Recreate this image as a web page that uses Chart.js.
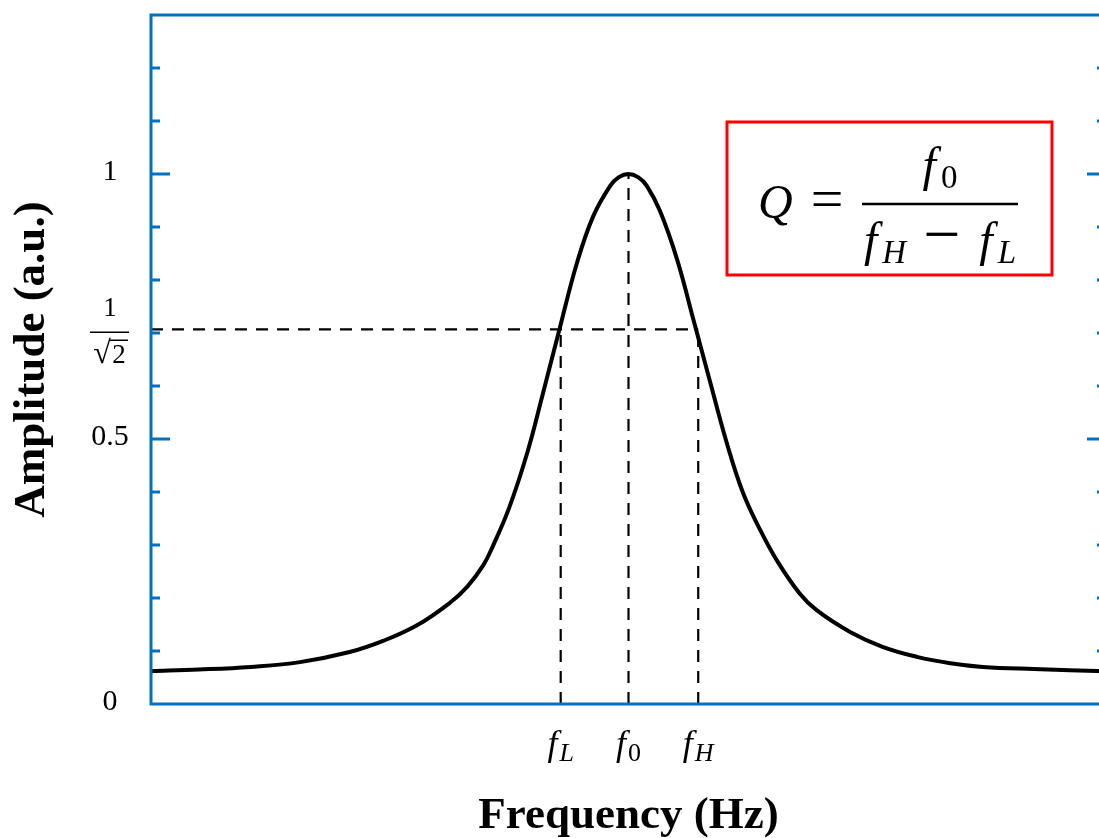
<!DOCTYPE html>
<html lang="en">
<head>
<meta charset="UTF-8">
<title>Resonance curve and Q factor</title>
<script src="https://cdn.jsdelivr.net/npm/chart.js@4.4.1/dist/chart.umd.min.js"></script>
<style>
  html, body { margin: 0; padding: 0; background: #fff; overflow: hidden; }
  #wrap { width: 1120px; height: 838px; }
</style>
</head>
<body>
<div id="wrap"><canvas id="resChart" width="1120" height="838"></canvas></div>
<script>
  // frequency in arbitrary units (axis runs 0..100), amplitude normalised to the peak
  const freq = [0, 5, 10.4, 15.6, 20.8, 24.3, 27.9, 31.3, 33.1, 34.8, 35.8, 37.5, 39.4, 41.0, 42.8, 44.6, 46.3, 48.1, 49,
                50, 51, 51.9, 53.3, 55.1, 56.8, 58.5, 60.3, 62.0, 63.8, 65.5, 67.9, 69.7, 73.2, 76.6, 80.2, 83.7, 87.1, 92.4, 100];
  const amplitude = [0.062, 0.065, 0.070, 0.079, 0.098, 0.119, 0.149, 0.191, 0.221, 0.262, 0.298, 0.370, 0.474, 0.583, 0.709, 0.832, 0.920, 0.978, 0.994,
                     1.0, 0.994, 0.978, 0.930, 0.838, 0.725, 0.611, 0.492, 0.398, 0.328, 0.272, 0.209, 0.177, 0.136, 0.108, 0.089, 0.077, 0.070, 0.066, 0.062];

  // fL, f0, fH and the level each dashed drop line reaches
  const markerFreqs = [42.9, 50, 57.3];
  const markerSubs = ['L', '0', 'H'];
  const markerLevels = [0.707, 1, 0.707];
  const halfPower = 0.707;

  const yTickValues = [0, 0.5, 1];
  const yTickLabels = ['0', '0.5', '1'];
  const majorTicks = [0.5, 1];
  const minorTicks = [0.1, 0.2, 0.3, 0.4, 0.6, 0.7, 0.8, 0.9, 1.1, 1.2];

  const BLUE = '#0070C0';
  const SERIF = '"Liberation Serif", "Times New Roman", serif';

  // draws a row of text pieces (f with subscripts etc.)
  function run(ctx, pieces, x, y, align) {
    let total = 0;
    pieces.forEach(p => { ctx.font = p.f; total += (p.dx || 0) + ctx.measureText(p.t).width; });
    let cx = align === 'center' ? x - total / 2 : x;
    ctx.textAlign = 'left';
    ctx.textBaseline = 'alphabetic';
    pieces.forEach(p => {
      ctx.font = p.f;
      cx += (p.dx || 0);
      ctx.fillText(p.t, cx, y + (p.dy || 0));
      cx += ctx.measureText(p.t).width;
    });
  }

  const dashed = (pts) => ({
    data: pts,
    borderColor: '#000',
    borderWidth: 2.2,
    borderDash: [12, 9],
    pointRadius: 0,
    tension: 0
  });

  const datasets = [
    dashed([{ x: 0, y: halfPower }, { x: markerFreqs[2], y: halfPower }])
  ];
  markerFreqs.forEach((f, i) => datasets.push(dashed([{ x: f, y: 0 }, { x: f, y: markerLevels[i] }])));
  datasets.push({
    data: freq.map((f, i) => ({ x: f, y: amplitude[i] })),
    borderColor: '#000',
    borderWidth: 4,
    pointRadius: 0,
    tension: 0.4
  });

  const decor = {
    id: 'decor',
    afterDraw(chart) {
      const { ctx, chartArea: a, scales: { x, y } } = chart;
      ctx.save();

      // blue frame with inward ticks on both sides
      ctx.strokeStyle = BLUE;
      ctx.lineWidth = 3;
      ctx.strokeRect(a.left, a.top, a.right - a.left, a.bottom - a.top);
      const tick = (v, len) => {
        const py = Math.round(y.getPixelForValue(v));
        ctx.beginPath();
        ctx.moveTo(a.left, py); ctx.lineTo(a.left + len, py);
        ctx.moveTo(a.right, py); ctx.lineTo(a.right - len, py);
        ctx.stroke();
      };
      majorTicks.forEach(v => tick(v, 19));
      minorTicks.forEach(v => tick(v, 9));

      // y tick labels
      ctx.fillStyle = '#000';
      ctx.font = `30px ${SERIF}`;
      ctx.textAlign = 'center';
      ctx.textBaseline = 'middle';
      const labX = a.left - 41;
      yTickValues.forEach((v, i) => ctx.fillText(yTickLabels[i], labX, y.getPixelForValue(v) - 2));

      // 1/sqrt(2) label
      const hp = y.getPixelForValue(halfPower);
      ctx.font = `27px ${SERIF}`;
      ctx.fillText('1', labX, hp - 20);
      ctx.font = `32px ${SERIF}`;
      ctx.fillText('\u221A', labX - 8, hp + 25);
      ctx.font = `27px ${SERIF}`;
      ctx.fillText('2', labX + 9, hp + 27);
      ctx.strokeStyle = '#000';
      ctx.lineWidth = 1.5;
      ctx.beginPath();
      ctx.moveTo(labX - 20, hp + 3); ctx.lineTo(labX + 19, hp + 3);
      ctx.moveTo(labX - 1, hp + 11); ctx.lineTo(labX + 18, hp + 11);
      ctx.stroke();

      // f_L, f_0, f_H under the axis
      markerFreqs.forEach((f, i) => {
        const sub = markerSubs[i];
        run(ctx, [
          { t: 'f', f: `italic 36px ${SERIF}` },
          { t: sub, f: (sub === '0' ? '' : 'italic ') + `26px ${SERIF}`, dx: 2, dy: 6 }
        ], x.getPixelForValue(f), 755, 'center');
      });

      // axis titles
      ctx.font = `bold 45px ${SERIF}`;
      ctx.textAlign = 'center';
      ctx.textBaseline = 'alphabetic';
      ctx.fillText('Frequency (Hz)', (a.left + a.right) / 2, 828);
      ctx.save();
      ctx.translate(44, (a.top + a.bottom) / 2);
      ctx.rotate(-Math.PI / 2);
      ctx.fillText('Amplitude (a.u.)', 0, 0);
      ctx.restore();

      // Q formula box
      ctx.strokeStyle = '#FF0000';
      ctx.lineWidth = 3;
      ctx.strokeRect(727, 122, 325, 153);
      const it48 = `italic 48px ${SERIF}`;
      const it33 = `italic 33px ${SERIF}`;
      run(ctx, [{ t: 'Q', f: it48 }, { t: '=', f: `58px ${SERIF}`, dx: 18 }], 758, 218, 'left');
      ctx.strokeStyle = '#000';
      ctx.lineWidth = 2.5;
      ctx.beginPath();
      ctx.moveTo(862, 204); ctx.lineTo(1018, 204);
      ctx.stroke();
      run(ctx, [{ t: 'f', f: it48 }, { t: '0', f: `33px ${SERIF}`, dx: 5, dy: 7 }], 940, 181, 'center');
      run(ctx, [
        { t: 'f', f: it48 }, { t: 'H', f: it33, dx: 5, dy: 7 },
        { t: '\u2212', f: `66px ${SERIF}`, dx: 17 },
        { t: 'f', f: it48, dx: 19 }, { t: 'L', f: it33, dx: 5, dy: 7 }
      ], 940, 256, 'center');

      ctx.restore();
    }
  };

  new Chart(document.getElementById('resChart'), {
    type: 'line',
    data: { datasets },
    options: {
      responsive: false,
      animation: false,
      layout: { padding: { left: 151, top: 15, right: 14, bottom: 134 } },
      plugins: { legend: { display: false }, tooltip: { enabled: false } },
      scales: {
        x: { type: 'linear', min: 0, max: 100, display: false },
        y: { min: 0, max: 1.3, display: false }
      }
    },
    plugins: [decor]
  });
</script>
</body>
</html>
